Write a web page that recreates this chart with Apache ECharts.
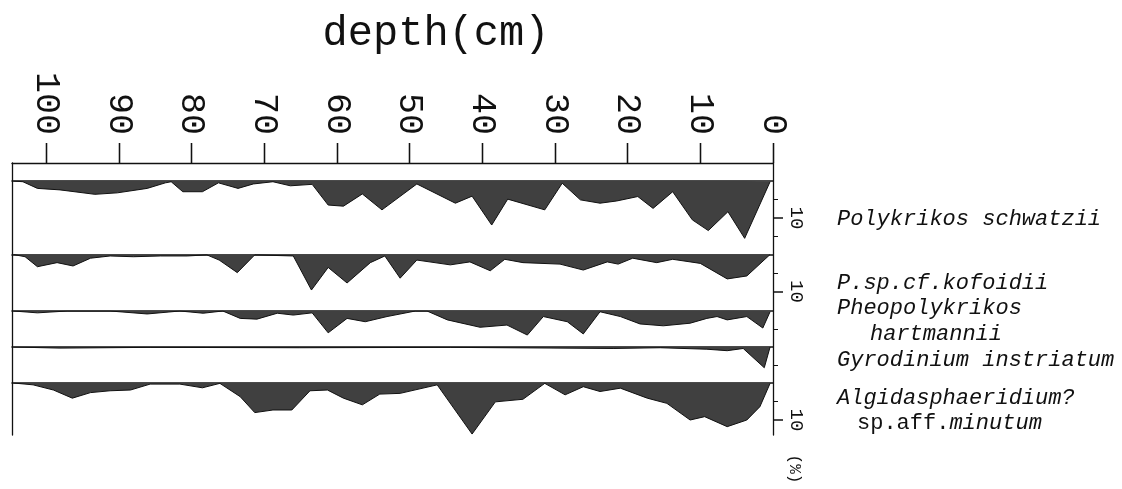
<!DOCTYPE html>
<html>
<head>
<meta charset="utf-8">
<script src="https://cdn.jsdelivr.net/npm/echarts@6/dist/echarts.min.js"></script>
<style>
  html, body { margin: 0; padding: 0; background: #fff; }
  #cyst_chart { width: 1122px; height: 489px; }
</style>
</head>
<body>
<div id="cyst_chart"></div>
<script>
  // depth axis (cm)
  var depthTicks = [0, 10, 20, 30, 40, 50, 60, 70, 80, 90, 100]

  // Polykrikos schwatzii
  var schwatziiDepth = [104.5, 103.2, 101.2, 98.1, 93.3, 90.2, 86.1, 83.6, 82.8, 81.2, 78.5, 76.3, 73.6, 71.5, 68.8, 66.4, 63.4, 61.2, 59.1, 56.5, 53.8, 49.0, 43.7, 41.4, 38.7, 36.5, 31.4, 29.0, 26.5, 23.8, 21.5, 18.6, 16.5, 13.8, 11.1, 8.9, 6.2, 3.9, 0.4]
  var schwatziiPct = [0, 0.2, 2.0, 2.4, 3.6, 3.2, 2.0, 0.5, 0.2, 2.9, 2.9, 0.5, 2.0, 0.8, 0.2, 1.3, 0.9, 6.5, 6.8, 3.5, 7.8, 0.8, 6.0, 4.1, 11.9, 4.9, 7.8, 0.6, 5.1, 6.0, 5.4, 4.2, 7.4, 2.9, 10.5, 13.4, 8.3, 15.5, 0.2]

  // P.sp.cf.kofoidii
  var kofoidiiDepth = [104.5, 102.9, 101.2, 98.5, 96.3, 93.9, 91.2, 88.0, 84.3, 80.6, 77.9, 76.2, 73.7, 71.3, 66.0, 63.5, 61.2, 58.6, 55.4, 53.4, 51.3, 49.0, 44.4, 41.7, 38.9, 36.9, 34.4, 29.3, 26.1, 22.8, 21.3, 19.3, 16.0, 13.8, 10.0, 6.3, 3.6, 0.4]
  var kofoidiiPct = [0, 0.6, 3.3, 2.2, 3.1, 1.0, 0.4, 0.6, 0.4, 0.4, 0.1, 1.5, 4.9, 0.1, 0.4, 9.6, 3.5, 7.7, 2.2, 0.4, 6.4, 1.5, 2.8, 2.0, 4.4, 1.3, 2.2, 2.6, 4.2, 2.0, 2.6, 1.0, 2.2, 1.3, 2.4, 6.6, 5.8, 0]

  // Pheopolykrikos hartmannii
  var hartmanniiDepth = [104.5, 101.2, 97.1, 91.2, 86.1, 81.6, 78.4, 75.7, 73.3, 71.0, 68.2, 66.0, 63.4, 61.2, 58.6, 56.1, 53.1, 49.2, 47.6, 44.8, 40.3, 36.6, 33.8, 31.6, 28.3, 26.1, 23.8, 21.0, 18.3, 15.1, 11.4, 9.1, 7.7, 6.3, 3.6, 1.4, 0.4]
  var hartmanniiPct = [0, 0.5, 0, 0, 0.8, 0, 0.6, 0, 2.0, 2.2, 0.6, 1.1, 0.5, 5.9, 2.0, 2.9, 1.5, 0, 0, 2.4, 4.4, 3.8, 6.5, 1.5, 2.9, 6.2, 0.2, 1.5, 3.5, 4.0, 3.3, 2.0, 1.5, 2.4, 1.5, 4.6, 0.2]

  // Gyrodinium instriatum
  var instriatumDepth = [104.5, 98.1, 85.7, 65.1, 44.4, 22.0, 15.5, 9.1, 6.3, 4.1, 1.2, 0.4]
  var instriatumPct = [0, 0.3, 0.1, 0.2, 0.1, 0.4, 0.2, 0.6, 1.0, 0.4, 5.6, 0]

  // Algidasphaeridium? sp.aff.minutum
  var minutumDepth = [104.5, 101.8, 99.0, 96.4, 93.9, 91.2, 88.4, 85.7, 81.6, 78.5, 76.1, 73.3, 71.3, 68.8, 66.2, 63.7, 61.3, 59.1, 56.5, 54.1, 51.3, 46.2, 41.4, 38.2, 34.4, 31.4, 28.6, 26.1, 23.8, 21.0, 17.3, 14.6, 11.4, 9.4, 6.3, 3.6, 1.8, 0.4]
  var minutumPct = [0, 0.5, 1.9, 4.1, 2.6, 2.1, 1.9, 0.3, 0.3, 1.3, 0.1, 3.7, 8.0, 7.3, 7.3, 2.1, 1.9, 4.1, 5.9, 3.0, 2.8, 0.5, 13.8, 5.1, 4.4, 0.1, 3.2, 1.0, 2.3, 1.4, 4.1, 5.5, 10.0, 9.1, 11.8, 10.0, 6.4, 0.1]

  // percentage scale ticks shown at the right of each panel
  var pctTicks = [[5, 15], [5], [5], [5], [5]]
  var pctLabelTicks = [[10], [10], [], [], [10]]

  var MONO = '"Liberation Mono", "DejaVu Sans Mono", monospace'
  var DEPTH_MAX = 104.7
  var PX_PER_PCT = 3.7
  var LEFT = 12
  var RIGHT = 349
  // panel layout: top and height in px
  var panelBox = [[181, 73.5], [254.5, 56.5], [311, 36], [347, 36], [383, 52]]

  var panelData = [
    [schwatziiDepth, schwatziiPct],
    [kofoidiiDepth, kofoidiiPct],
    [hartmanniiDepth, hartmanniiPct],
    [instriatumDepth, instriatumPct],
    [minutumDepth, minutumPct]
  ]

  function zip (a, b) {
    return a.map(function (v, i) { return [v, b[i]] })
  }

  // grid 0 = frame with depth labels, grid 1 = strip above it holding the depth ticks
  var grid = [
    { left: LEFT, right: RIGHT, top: 163, height: 272, show: true, backgroundColor: 'transparent', borderWidth: 0 },
    { left: LEFT, right: RIGHT, top: 143, height: 20, show: true, backgroundColor: 'transparent', borderWidth: 0 }
  ]
  var xAxis = [{
    gridIndex: 0,
    type: 'value',
    position: 'top',
    min: 0,
    max: DEPTH_MAX,
    inverse: true,
    axisLine: { show: true, onZero: true, lineStyle: { color: '#111', width: 1.3 } },
    axisTick: { show: true, customValues: depthTicks, length: 20, lineStyle: { color: '#111', width: 1.3 } },
    axisLabel: {
      show: true,
      customValues: depthTicks,
      rotate: -90,
      margin: 28,
      color: '#111',
      fontFamily: MONO,
      fontSize: 35
    },
    splitLine: { show: false }
  }, {
    gridIndex: 1,
    type: 'value',
    min: 0,
    max: DEPTH_MAX,
    interval: 10,
    inverse: true,
    axisLine: { show: false },
    axisTick: { show: false },
    axisLabel: { show: false },
    splitLine: { show: true, showMaxLine: false, lineStyle: { color: '#111', width: 1.3 } }
  }]
  var yAxis = [{
    gridIndex: 0,
    type: 'value',
    position: 'left',
    min: 0,
    max: 1,
    inverse: true,
    axisLine: { show: true, onZero: false, lineStyle: { color: '#111', width: 1.3 } },
    axisTick: { show: false },
    axisLabel: { show: false },
    splitLine: { show: false }
  }, {
    gridIndex: 0,
    type: 'value',
    position: 'right',
    min: 0,
    max: 1,
    inverse: true,
    axisLine: { show: true, onZero: false, lineStyle: { color: '#111', width: 1.3 } },
    axisTick: { show: false },
    axisLabel: { show: false },
    splitLine: { show: false }
  }, {
    gridIndex: 1,
    type: 'value',
    show: false
  }]
  var series = []

  panelBox.forEach(function (box, i) {
    var gi = grid.length
    grid.push({ left: LEFT, right: RIGHT, top: box[0], height: box[1] })
    var xIndex = xAxis.length
    xAxis.push({
      gridIndex: gi,
      type: 'value',
      position: 'top',
      min: 0,
      max: DEPTH_MAX,
      inverse: true,
      axisLine: { show: true, onZero: false, lineStyle: { color: '#111', width: 1.5 } },
      axisTick: { show: false },
      axisLabel: { show: false },
      splitLine: { show: false }
    })
    var yIndex = yAxis.length
    yAxis.push({
      gridIndex: gi,
      type: 'value',
      position: 'right',
      min: 0,
      max: box[1] / PX_PER_PCT,
      inverse: true,
      axisLine: { show: false, onZero: false },
      axisTick: { show: true, customValues: pctTicks[i], length: 5, lineStyle: { color: '#111' } },
      axisLabel: { show: false },
      splitLine: { show: false }
    })
    yAxis.push({
      gridIndex: gi,
      type: 'value',
      position: 'right',
      min: 0,
      max: box[1] / PX_PER_PCT,
      inverse: true,
      axisLine: { show: false, onZero: false },
      axisTick: { show: pctLabelTicks[i].length > 0, customValues: pctLabelTicks[i], length: 10, lineStyle: { color: '#111', width: 1.5 } },
      axisLabel: {
        show: pctLabelTicks[i].length > 0,
        customValues: pctLabelTicks[i],
        rotate: -90,
        margin: 14,
        color: '#111',
        fontFamily: MONO,
        fontSize: 19
      },
      splitLine: { show: false }
    })
    series.push({
      type: 'line',
      xAxisIndex: xIndex,
      yAxisIndex: yIndex,
      symbol: 'none',
      lineStyle: { color: '#111', width: 1 },
      areaStyle: { color: '#404040', opacity: 1 },
      data: zip(panelData[i][0], panelData[i][1])
    })
  })

  var nameFont = 'italic 22px ' + MONO
  var option = {
    animation: false,
    backgroundColor: '#fff',
    title: {
      text: 'depth(cm)',
      left: 431,
      top: 8,
      textAlign: 'center',
      textStyle: { fontFamily: MONO, fontSize: 42, fontWeight: 'normal', color: '#111' }
    },
    grid: grid,
    xAxis: xAxis,
    yAxis: yAxis,
    series: series,
    graphic: [
      { type: 'text', x: 837, y: 219, style: { text: 'Polykrikos schwatzii', font: nameFont, fill: '#111', verticalAlign: 'middle' } },
      { type: 'text', x: 837, y: 283, style: { text: 'P.sp.cf.kofoidii', font: nameFont, fill: '#111', verticalAlign: 'middle' } },
      { type: 'text', x: 837, y: 308, style: { text: 'Pheopolykrikos', font: nameFont, fill: '#111', verticalAlign: 'middle' } },
      { type: 'text', x: 870, y: 334, style: { text: 'hartmannii', font: nameFont, fill: '#111', verticalAlign: 'middle' } },
      { type: 'text', x: 837, y: 360, style: { text: 'Gyrodinium instriatum', font: nameFont, fill: '#111', verticalAlign: 'middle' } },
      { type: 'text', x: 837, y: 398, style: { text: 'Algidasphaeridium?', font: nameFont, fill: '#111', verticalAlign: 'middle' } },
      {
        type: 'text',
        x: 857,
        y: 423,
        style: {
          text: '{n|sp.aff.}{i|minutum}',
          fill: '#111',
          verticalAlign: 'middle',
          rich: {
            n: { fontFamily: MONO, fontSize: 22, fontStyle: 'normal', color: '#111' },
            i: { fontFamily: MONO, fontSize: 22, fontStyle: 'italic', color: '#111' }
          }
        }
      },
      { type: 'text', x: 794, y: 469, rotation: -Math.PI / 2, style: { text: '(%)', font: '16px ' + MONO, fill: '#111', align: 'center', verticalAlign: 'middle' } }
    ]
  }

  var myChart = echarts.init(document.getElementById('cyst_chart'))
  myChart.setOption(option)
</script>
</body>
</html>
